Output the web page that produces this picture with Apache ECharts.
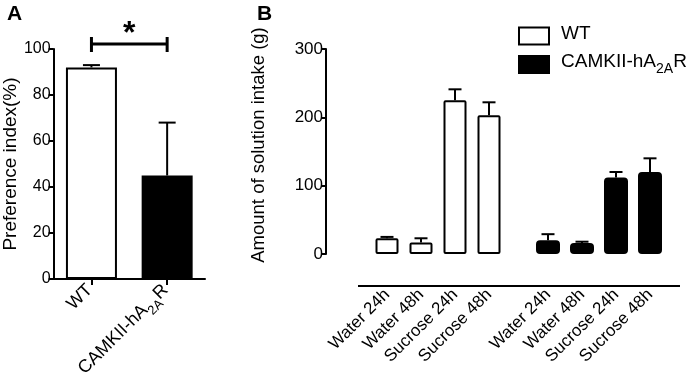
<!DOCTYPE html>
<html>
<head>
<meta charset="utf-8">
<script src="https://cdn.jsdelivr.net/npm/echarts@6/dist/echarts.min.js"></script>
<style>
  html, body { margin: 0; padding: 0; background: #fff; }
  #chart { width: 687px; height: 385px; }
</style>
</head>
<body>
<div id="chart"></div>
<script>
// panel A
const groupNames = ["WT", "CAMKII-hA2AR"];
const prefMean = [92, 45];
const prefSem = [1, 23];
// panel B
const intakeCats = ["Water 24h", "Water 48h", "Sucrose 24h", "Sucrose 48h"];
const wtMean = [23, 17, 225, 203];
const wtSem = [2, 6, 16, 19];
const tgMean = [20, 16, 112, 120];
const tgSem = [9, 2, 8, 20];

const FONT = "Liberation Sans";
const chart = echarts.init(document.getElementById("chart"));

// subscript "2A" in the transgenic name
const subRich = (size) => ({
  p: { width: 7 },
  a: { fontSize: size, lineHeight: size + 5, verticalAlign: "top", color: "#000", fontFamily: FONT },
  s: { fontSize: size - 5, lineHeight: size - 5, verticalAlign: "bottom", color: "#000", fontFamily: FONT }
});
const fmtName = (name) =>
  name === "CAMKII-hA2AR" ? "{a|CAMKII-hA}{s|2A}{a|R}" : "{a|" + name + "}";

// upward error bar with cap
const errBar = (capW) => (params, api) => {
  const x = api.value(0);
  const lo = api.coord([x, api.value(1)]);
  const hi = api.coord([x, api.value(1) + api.value(2)]);
  const st = { stroke: "#000", lineWidth: 2 };
  return {
    type: "group",
    children: [
      { type: "line", shape: { x1: lo[0], y1: lo[1], x2: hi[0], y2: hi[1] }, style: st },
      { type: "line", shape: { x1: hi[0] - capW / 2, y1: hi[1], x2: hi[0] + capW / 2, y2: hi[1] }, style: st }
    ]
  };
};

const valAxis = (grid, max, interval, extra) => Object.assign({
  type: "value", gridIndex: grid, min: 0, max: max, interval: interval,
  splitLine: { show: false },
  axisLine: { show: true, lineStyle: { color: "#000", width: 2 } },
  axisTick: { show: true, length: 5, lineStyle: { color: "#000", width: 2 } },
  axisLabel: { color: "#000", fontSize: 16, fontFamily: FONT, margin: 3 },
  nameLocation: "middle",
  nameTextStyle: { color: "#000", fontSize: 19, fontFamily: FONT }
}, extra);

const catAxis = (grid, data, extra) => Object.assign({
  type: "category", gridIndex: grid, data: data,
  axisLine: { show: true, lineStyle: { color: "#000", width: 2 } },
  axisTick: { show: true, alignWithLabel: true, length: 6, lineStyle: { color: "#000", width: 2 } },
  axisLabel: { color: "#000", fontSize: 17, fontFamily: FONT, rotate: 45, margin: 6 }
}, extra);

const innerTick = { show: true, inside: true, alignWithLabel: true, length: 6, lineStyle: { color: "#000", width: 2 } };

const option = {
  animation: false,
  textStyle: { fontFamily: FONT },
  grid: [
    { left: 52, top: 49, width: 153, height: 230 },
    { left: 370, top: 49, width: 136, height: 205 },
    { left: 531, top: 49, width: 136, height: 205 }
  ],
  legend: {
    orient: "vertical", left: 513, top: 19,
    itemWidth: 30, itemHeight: 17, itemGap: 7,
    icon: "rect",
    data: ["WT", "CAMKII-hA2AR"],
    formatter: (n) => "{p|}" + fmtName(n),
    textStyle: { rich: subRich(19) }
  },
  xAxis: [
    catAxis(0, groupNames, {
      axisLabel: { rotate: 45, margin: 10, formatter: fmtName, rich: subRich(18) }
    }),
    catAxis(1, intakeCats, { offset: 32, axisLine: { show: false }, axisTick: innerTick }),
    catAxis(2, intakeCats, { offset: 32, axisLine: { show: false }, axisTick: innerTick })
  ],
  yAxis: [
    valAxis(0, 100, 20, { name: "Preference index(%)", nameGap: 30 }),
    valAxis(1, 300, 100, {
      offset: 44, name: "Amount of solution intake (g)", nameGap: 58,
      axisLabel: { color: "#000", fontSize: 17, fontFamily: FONT, margin: 3 },
      nameTextStyle: { color: "#000", fontSize: 18.5, fontFamily: FONT, padding: [0, 0, 0, 13] }
    }),
    valAxis(2, 300, 100, { show: false })
  ],
  series: [
    {
      name: "Preference", type: "bar", xAxisIndex: 0, yAxisIndex: 0, barWidth: 51,
      data: prefMean.map((v, i) => ({
        value: v,
        itemStyle: i === 0
          ? { color: "#fff", borderColor: "#000", borderWidth: 2 }
          : { color: "#000", borderColor: "#000", borderWidth: 2 }
      }))
    },
    {
      type: "custom", xAxisIndex: 0, yAxisIndex: 0, z: 3, renderItem: errBar(17),
      data: prefMean.map((v, i) => [i, v, prefSem[i]])
    },
    {
      name: "WT", type: "bar", xAxisIndex: 1, yAxisIndex: 1, barWidth: 23,
      itemStyle: { color: "#fff", borderColor: "#000", borderWidth: 2, borderRadius: 1 },
      data: wtMean
    },
    {
      type: "custom", xAxisIndex: 1, yAxisIndex: 1, z: 3, renderItem: errBar(13),
      data: wtMean.map((v, i) => [i, v, wtSem[i]])
    },
    {
      name: "CAMKII-hA2AR", type: "bar", xAxisIndex: 2, yAxisIndex: 2, barWidth: 24,
      itemStyle: { color: "#000", borderColor: "#000", borderWidth: 2, borderRadius: 3 },
      data: tgMean
    },
    {
      type: "custom", xAxisIndex: 2, yAxisIndex: 2, z: 3, renderItem: errBar(13),
      data: tgMean.map((v, i) => [i, v, tgSem[i]])
    }
  ]
};
chart.setOption(option);

// significance bracket and panel letters, placed from the axes
const pL = chart.convertToPixel({ gridIndex: 0 }, [0, 100]);
const pR = chart.convertToPixel({ gridIndex: 0 }, [1, 100]);
const by = pL[1] - 5;
const g1 = option.grid[1], g2 = option.grid[2];
const axY = g1.top + g1.height + 32;
chart.setOption({
  graphic: [
    { type: "line", shape: { x1: pL[0], y1: by, x2: pR[0], y2: by }, style: { stroke: "#000", lineWidth: 3 } },
    { type: "line", shape: { x1: pL[0], y1: by - 7, x2: pL[0], y2: by + 8 }, style: { stroke: "#000", lineWidth: 3 } },
    { type: "line", shape: { x1: pR[0], y1: by - 7, x2: pR[0], y2: by + 8 }, style: { stroke: "#000", lineWidth: 3 } },
    { type: "text", x: (pL[0] + pR[0]) / 2, y: by - 26, style: { text: "*", fontSize: 32, fontWeight: "bold", fill: "#000", align: "center", fontFamily: FONT } },
    { type: "line", shape: { x1: g1.left - 12, y1: axY, x2: g2.left + g2.width + 13, y2: axY }, style: { stroke: "#000", lineWidth: 2 } },
    { type: "text", x: 7, y: 4, style: { text: "A", fontSize: 21, fontWeight: "bold", fill: "#000", fontFamily: FONT } },
    { type: "text", x: 257, y: 4, style: { text: "B", fontSize: 21, fontWeight: "bold", fill: "#000", fontFamily: FONT } }
  ]
});
</script>
</body>
</html>
